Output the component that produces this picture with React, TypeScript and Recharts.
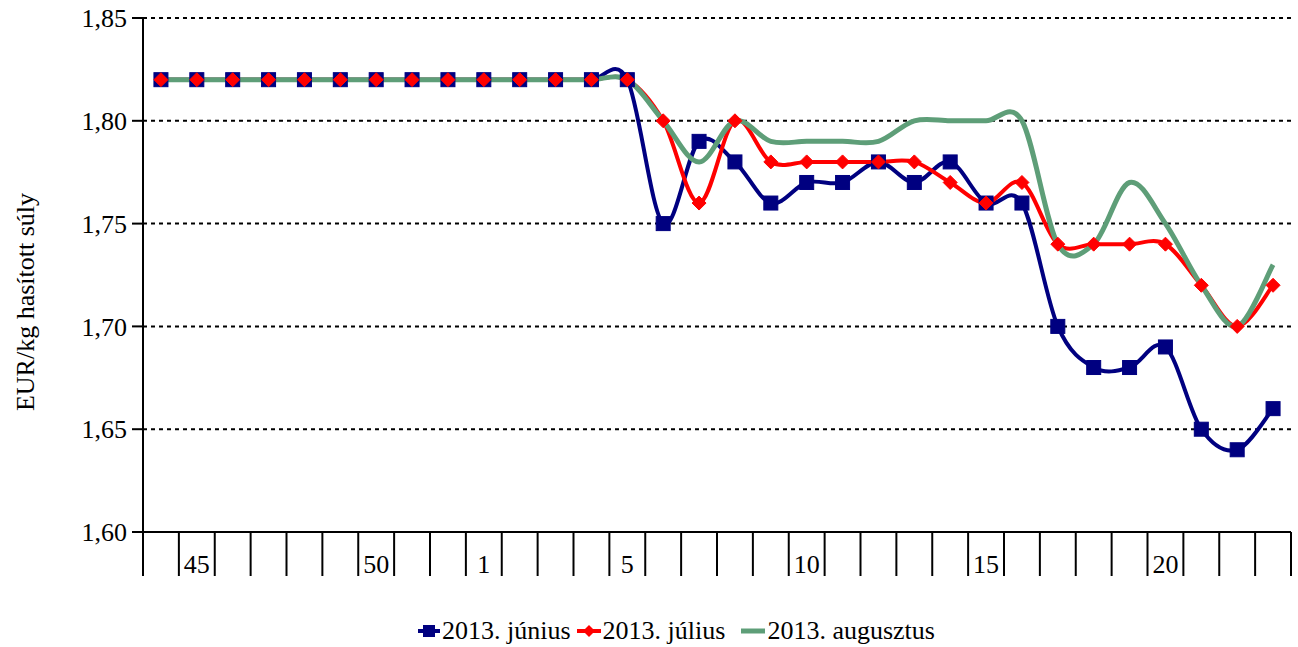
import React from 'react';
import { LineChart, Line, XAxis, YAxis, CartesianGrid, Legend } from 'recharts';

const weeks = ['44','45','46','47','48','49','50','51','52','1','2','3','4','5','6','7','8','9','10','11','12','13','14','15','16','17','18','19','20','21','22','23'];
const labeledWeeks = ['45','50','1','5','10','15','20'];
const junius = [1.82,1.82,1.82,1.82,1.82,1.82,1.82,1.82,1.82,1.82,1.82,1.82,1.82,1.82,1.75,1.79,1.78,1.76,1.77,1.77,1.78,1.77,1.78,1.76,1.76,1.70,1.68,1.68,1.69,1.65,1.64,1.66];
const julius = [1.82,1.82,1.82,1.82,1.82,1.82,1.82,1.82,1.82,1.82,1.82,1.82,1.82,1.82,1.80,1.76,1.80,1.78,1.78,1.78,1.78,1.78,1.77,1.76,1.77,1.74,1.74,1.74,1.74,1.72,1.70,1.72];
const augusztus = [1.82,1.82,1.82,1.82,1.82,1.82,1.82,1.82,1.82,1.82,1.82,1.82,1.82,1.82,1.80,1.78,1.80,1.79,1.79,1.79,1.79,1.80,1.80,1.80,1.80,1.74,1.74,1.77,1.75,1.72,1.70,1.73];
const yTicks = [1.6, 1.65, 1.7, 1.75, 1.8, 1.85];
const seriesNames = ['2013. június', '2013. július', '2013. augusztus'];
const yLabel = 'EUR/kg hasított súly';

const data = weeks.map((w, i) => ({ week: w, jun: junius[i], jul: julius[i], aug: augusztus[i] }));

const W = 1298;
const H = 647;
const M = { top: 18, right: 7, left: 0, bottom: 65 };
const Y_W = 143;
const X_H = 50;
const FONT = '"Liberation Serif", "Times New Roman", serif';
const FS = 26;
const BAND = (W - M.left - M.right - Y_W) / weeks.length;

// Excel-like smoothing (Catmull-Rom as cubic Bezier)
const K = 1 / 6;
const excelSmooth: any = (context: any) => {
  let pts: number[][] = [];
  return {
    areaStart() {},
    areaEnd() {},
    lineStart() { pts = []; },
    point(x: number, y: number) { pts.push([+x, +y]); },
    lineEnd() {
      const n = pts.length;
      if (!n) return;
      context.moveTo(pts[0][0], pts[0][1]);
      for (let i = 0; i < n - 1; i++) {
        const p0 = pts[i - 1] || pts[i];
        const p1 = pts[i];
        const p2 = pts[i + 1];
        const p3 = pts[i + 2] || pts[i + 1];
        context.bezierCurveTo(
          p1[0] + (p2[0] - p0[0]) * K, p1[1] + (p2[1] - p0[1]) * K,
          p2[0] - (p3[0] - p1[0]) * K, p2[1] - (p3[1] - p1[1]) * K,
          p2[0], p2[1]
        );
      }
    },
  };
};

const SquareDot = (props: any) => {
  const { cx, cy } = props;
  if (cx == null || cy == null) return null;
  return <rect x={cx - 7} y={cy - 7} width={14} height={14} fill="#000080" stroke="#000080" strokeWidth={1} />;
};
const DiamondDot = (props: any) => {
  const { cx, cy } = props;
  if (cx == null || cy == null) return null;
  return <polygon points={`${cx},${cy - 7} ${cx + 7},${cy} ${cx},${cy + 7} ${cx - 7},${cy}`} fill="#FF0000" stroke="#FF0000" strokeWidth={1} />;
};

const XTick = (props: any) => {
  const { x, y, payload, index, visibleTicksCount } = props;
  const left = x - BAND / 2;
  const right = x + BAND / 2;
  const show = labeledWeeks.includes(payload.value);
  return (
    <g>
      <line x1={left} y1={y} x2={left} y2={y + 44} stroke="#000" strokeWidth={2} />
      {index === visibleTicksCount - 1 && (
        <line x1={right} y1={y} x2={right} y2={y + 44} stroke="#000" strokeWidth={2} />
      )}
      {show && (
        <text x={x} y={y + 41} textAnchor="middle" fontFamily={FONT} fontSize={FS} fill="#000">{payload.value}</text>
      )}
    </g>
  );
};

const YLabel = (props: any) => {
  const vb = props.viewBox || {};
  const cx = 25;
  const cy = (vb.y ?? 18) + (vb.height ?? 514) / 2 + 27;
  return (
    <text x={cx} y={cy} transform={`rotate(-90, ${cx}, ${cy})`} textAnchor="middle" dominantBaseline="central" fontFamily={FONT} fontSize={FS} fill="#000">
      {yLabel}
    </text>
  );
};

const LegendContent = () => (
  <div style={{ display: 'flex', alignItems: 'center', fontFamily: FONT, fontSize: FS, color: '#000', whiteSpace: 'nowrap', lineHeight: '28px' }}>
    <svg width={22} height={14} style={{ marginRight: 2 }}>
      <line x1={0} y1={7} x2={22} y2={7} stroke="#000080" strokeWidth={4} />
      <rect x={5} y={1} width={12} height={12} fill="#000080" />
    </svg>
    <span style={{ marginRight: 6 }}>{seriesNames[0]}</span>
    <svg width={24} height={14} style={{ marginRight: 2 }}>
      <line x1={0} y1={7} x2={24} y2={7} stroke="#FF0000" strokeWidth={4} />
      <polygon points="12,1 18,7 12,13 6,7" fill="#FF0000" />
    </svg>
    <span style={{ marginRight: 16 }}>{seriesNames[1]}</span>
    <svg width={24} height={14} style={{ marginRight: 2 }}>
      <line x1={0} y1={7} x2={24} y2={7} stroke="#5E9E78" strokeWidth={5} />
    </svg>
    <span>{seriesNames[2]}</span>
  </div>
);

export default function App() {
  return (
    <div style={{ position: 'absolute', left: 0, top: 0, width: W, height: H, background: '#fff' }}>
      <LineChart width={W} height={H} data={data} margin={M}>
        <CartesianGrid horizontal={true} vertical={false} stroke="#000" strokeWidth={2} strokeDasharray="4 4" />
        <XAxis
          dataKey="week"
          scale="band"
          interval={0}
          height={X_H}
          tickSize={0}
          tickMargin={0}
          tickLine={false}
          tick={<XTick />}
          axisLine={{ stroke: '#000', strokeWidth: 2 }}
        />
        <YAxis
          width={Y_W}
          domain={[1.6, 1.85]}
          ticks={yTicks}
          interval={0}
          allowDataOverflow
          tickSize={11}
          tickMargin={5}
          tickFormatter={(v: number) => v.toFixed(2).replace('.', ',')}
          tick={{ fill: '#000', fontFamily: FONT, fontSize: FS }}
          tickLine={{ stroke: '#000', strokeWidth: 2 }}
          axisLine={{ stroke: '#000', strokeWidth: 2 }}
          label={<YLabel />}
        />
        <Line type={excelSmooth} dataKey="jun" name={seriesNames[0]} stroke="#000080" strokeWidth={4} dot={<SquareDot />} activeDot={false} isAnimationActive={false} />
        <Line type={excelSmooth} dataKey="jul" name={seriesNames[1]} stroke="#FF0000" strokeWidth={4} dot={<DiamondDot />} activeDot={false} isAnimationActive={false} />
        <Line type={excelSmooth} dataKey="aug" name={seriesNames[2]} stroke="#5E9E78" strokeWidth={5} dot={false} activeDot={false} isAnimationActive={false} />
        <Legend layout="horizontal" verticalAlign="middle" align="center" content={<LegendContent />} wrapperStyle={{ top: 617, left: 418, width: 'auto' }} />
      </LineChart>
    </div>
  );
}
